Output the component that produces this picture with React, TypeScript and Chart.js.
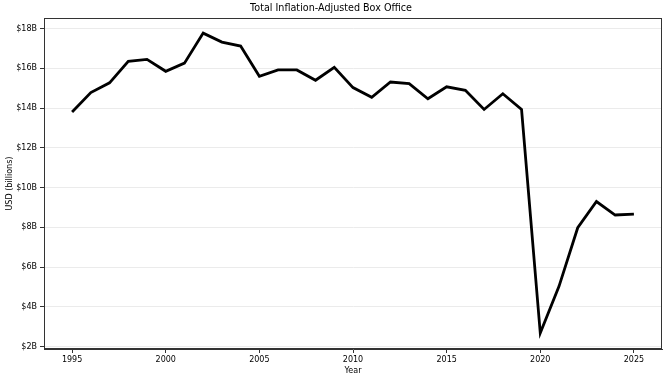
import React, { useEffect, useRef } from "react";
import { Chart, registerables } from "chart.js";

Chart.register(...registerables);

const years = [1995,1996,1997,1998,1999,2000,2001,2002,2003,2004,2005,2006,2007,2008,2009,2010,2011,2012,2013,2014,2015,2016,2017,2018,2019,2020,2021,2022,2023,2024,2025];
const boxOffice = [13.8,14.78,15.27,16.35,16.45,15.85,16.26,17.77,17.32,17.12,15.6,15.92,15.92,15.4,16.05,15.03,14.54,15.31,15.23,14.47,15.07,14.89,13.93,14.72,13.93,2.68,5.03,7.98,9.3,8.62,8.67];
const title = "Total Inflation-Adjusted Box Office";
const xTitle = "Year";
const yTitle = "USD (billions)";

const FONT = "'DejaVu Sans', sans-serif";

const framePlugin = {
  id: "frame",
  afterDraw(chart: any) {
    const { ctx, chartArea: a } = chart;
    ctx.save();
    ctx.strokeStyle = "#333";
    ctx.lineWidth = 1;
    ctx.strokeRect(Math.round(a.left) + 0.5, Math.round(a.top) + 0.5, Math.round(a.right - a.left) - 1, Math.round(a.bottom - a.top) - 1);
    ctx.restore();
  },
};

export default function App() {
  const ref = useRef<HTMLCanvasElement | null>(null);
  useEffect(() => {
    document.body.style.margin = "0";
    const chart = new Chart(ref.current!, {
      type: "line",
      data: {
        datasets: [
          {
            data: years.map((y, i) => ({ x: y, y: boxOffice[i] })),
            borderColor: "#000",
            borderWidth: 2.8,
            pointRadius: 0,
            tension: 0,
            fill: false,
          },
        ],
      },
      options: {
        animation: false,
        responsive: false,
        layout: { padding: { left: 0, right: 6, top: 0, bottom: 0 } },
        plugins: {
          legend: { display: false },
          tooltip: { enabled: false },
          title: {
            display: true,
            text: title,
            color: "#000",
            font: { family: FONT, size: 9.6, weight: "normal", lineHeight: 1.2 },
            padding: { top: 3, bottom: 3.5 },
          },
        },
        scales: {
          x: {
            type: "linear",
            min: 1993.5,
            max: 2026.5,
            afterFit: (s: any) => { s.height = 27; },
            ticks: {
              stepSize: 5,
              includeBounds: false,
              color: "#000",
              font: { family: FONT, size: 8 },
              padding: 2,
              maxRotation: 0,
              callback: (v: any) => String(v),
            },
            grid: { display: true, drawOnChartArea: false, tickLength: 4, tickColor: "#333" },
            border: { display: true, color: "#333" },
            title: { display: true, text: xTitle, color: "#000", font: { family: FONT, size: 8 }, padding: { top: 0, bottom: 0 } },
          },
          y: {
            type: "linear",
            min: 1.88,
            max: 18.53,
            afterFit: (s: any) => { s.width = 44; },
            ticks: {
              stepSize: 2,
              includeBounds: false,
              color: "#000",
              font: { family: FONT, size: 8 },
              padding: 3,
              callback: (v: any) => "$" + v + "B",
            },
            grid: { color: "#ebebeb", lineWidth: 1, tickLength: 4, tickColor: "#333" },
            border: { display: true, color: "#333" },
            title: { display: true, text: yTitle, color: "#000", font: { family: FONT, size: 8 }, padding: { top: 5, bottom: 0 } },
          },
        },
      },
      plugins: [framePlugin],
    } as any);
    return () => chart.destroy();
  }, []);
  return <canvas ref={ref} width={668} height={376} style={{ display: "block" }} />;
}
